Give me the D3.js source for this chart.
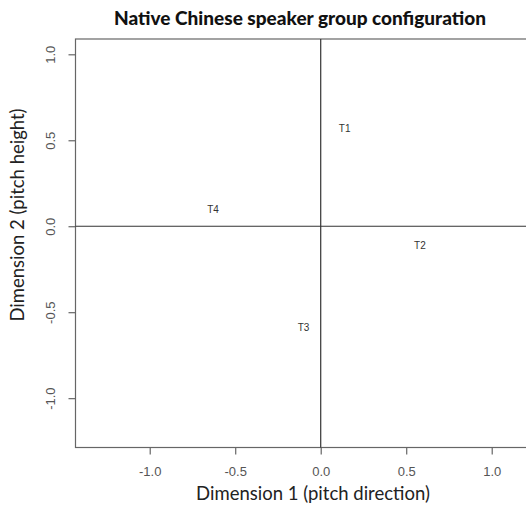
<!DOCTYPE html>
<html>
<head>
<meta charset="utf-8">
<script src="https://cdn.jsdelivr.net/npm/d3@7"></script>
<style>
  body { margin: 0; background: #fff; }
  svg { display: block; }
</style>
</head>
<body>
<svg id="chart" width="526" height="506"></svg>
<script>
const labels = ["T1", "T2", "T3", "T4"];
const dim1 = [0.14, 0.58, -0.10, -0.63];
const dim2 = [0.57, -0.11, -0.59, 0.10];
const xTicks = [-1.0, -0.5, 0.0, 0.5, 1.0];
const yTicks = [-1.0, -0.5, 0.0, 0.5, 1.0];

const svg = d3.select("#chart");
const box = { left: 75.5, top: 39, bottom: 447.5 };

const x = d3.scaleLinear()
  .domain([-1.434, 1.434])
  .range([box.left, box.left + 2 * 1.434 * 171]);

const y = d3.scaleLinear()
  .domain([-1.287, 1.089])
  .range([box.bottom, box.top]);

// plot frame (right edge runs past the picture)
svg.append("rect")
  .attr("x", x.range()[0])
  .attr("y", box.top)
  .attr("width", x.range()[1] - x.range()[0])
  .attr("height", box.bottom - box.top)
  .attr("fill", "none")
  .attr("stroke", "#666")
  .attr("stroke-width", 1.2);

// R style labels: plain hyphen for minus
const fmt = d => d3.format(".1f")(d).replace("\u2212", "-");

const xAxis = svg.append("g")
  .attr("transform", `translate(0,${box.bottom})`)
  .call(d3.axisBottom(x).tickValues(xTicks).tickFormat(fmt).tickSize(7).tickPadding(12));
xAxis.select(".domain").remove();

const yAxis = svg.append("g")
  .attr("transform", `translate(${box.left},0)`)
  .call(d3.axisLeft(y).tickValues(yTicks).tickFormat(fmt).tickSize(7).tickPadding(0));
yAxis.select(".domain").remove();

svg.selectAll(".tick line").attr("stroke", "#666").attr("stroke-width", 1.2);
svg.selectAll(".tick text")
  .attr("fill", "#555")
  .style("font-family", "Liberation Sans, Arial, sans-serif")
  .style("font-size", "13px");

yAxis.selectAll(".tick text")
  .attr("x", null).attr("dy", null)
  .attr("text-anchor", "middle")
  .attr("transform", "translate(-25,0) rotate(-90)")
  .attr("dy", "0.35em");

// reference lines at origin
svg.append("line")
  .attr("x1", x.range()[0]).attr("x2", x.range()[1])
  .attr("y1", y(0)).attr("y2", y(0))
  .attr("stroke", "#333").attr("stroke-width", 1.2);
svg.append("line")
  .attr("x1", x(0)).attr("x2", x(0))
  .attr("y1", box.top).attr("y2", box.bottom)
  .attr("stroke", "#333").attr("stroke-width", 1.2);

// point labels
svg.selectAll(".pt")
  .data(labels)
  .enter()
  .append("text")
  .attr("class", "pt")
  .attr("x", (d, i) => x(dim1[i]))
  .attr("y", (d, i) => y(dim2[i]))
  .attr("dy", "0.35em")
  .attr("text-anchor", "middle")
  .attr("fill", "#333")
  .style("font-family", "Liberation Sans, Arial, sans-serif")
  .style("font-size", "10px")
  .text(d => d);

// titles
svg.append("text")
  .attr("x", 300).attr("y", 25)
  .attr("text-anchor", "middle")
  .style("font-family", "Lato, 'Open Sans', sans-serif")
  .style("font-weight", "900")
  .style("font-size", "19px")
  .attr("fill", "#111")
  .text("Native Chinese speaker group configuration");

svg.append("text")
  .attr("x", 313).attr("y", 500)
  .attr("text-anchor", "middle")
  .style("font-family", "Lato, 'Open Sans', sans-serif")
  .style("font-size", "18.5px")
  .attr("fill", "#222")
  .text("Dimension 1 (pitch direction)");

svg.append("text")
  .attr("transform", "translate(24,215) rotate(-90)")
  .attr("text-anchor", "middle")
  .style("font-family", "Lato, 'Open Sans', sans-serif")
  .style("font-size", "18.5px")
  .attr("fill", "#222")
  .text("Dimension 2 (pitch height)");
</script>
</body>
</html>
